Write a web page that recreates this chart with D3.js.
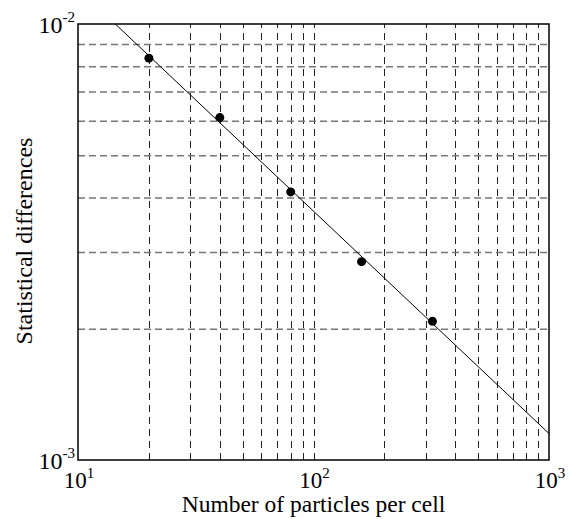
<!DOCTYPE html>
<html>
<head>
<meta charset="utf-8">
<script src="https://cdn.jsdelivr.net/npm/d3@7"></script>
<style>
  body { margin: 0; background: #fff; }
  text { font-family: "Liberation Serif", "Times New Roman", serif; fill: #000; }
</style>
</head>
<body>
<script>
var width = 569,
    height = 519;

var margin = {left: 78, top: 24, right: 20, bottom: 59};
var w = width - margin.left - margin.right,
    h = height - margin.top - margin.bottom;

// measured points
var particles = [20, 40, 80, 160, 320];
var differences = [0.00835, 0.0061, 0.00412, 0.00285, 0.00208];

// fitted line endpoints
var fitX = [14.4, 1000];
var fitY = [0.01, 0.00115];

var xDecades = [10, 100, 1000];
var yDecades = [0.001, 0.01];
var xGrid = [20, 30, 40, 50, 60, 70, 80, 90, 100, 200, 300, 400, 500, 600, 700, 800, 900];
var yGrid = [0.002, 0.003, 0.004, 0.005, 0.006, 0.007, 0.008, 0.009];

var svg = d3.select("body").append("svg")
    .attr("width", width)
    .attr("height", height);

var g = svg.append("g")
    .attr("transform", "translate(" + margin.left + "," + margin.top + ")");

var x = d3.scaleLog().domain([10, 1000]).range([0, w]);
var y = d3.scaleLog().domain([0.001, 0.01]).range([h, 0]);

// grid
g.append("g")
    .attr("class", "xgrid")
    .attr("transform", "translate(0," + h + ")")
    .call(d3.axisBottom(x).tickValues(xGrid).tickSize(-h).tickFormat(""))
    .call(function(s) {
        s.select(".domain").remove();
        s.selectAll("line")
            .attr("stroke", "#222")
            .attr("stroke-width", 1)
            .attr("stroke-dasharray", "7,5")
            .attr("shape-rendering", "crispEdges");
    });

g.append("g")
    .attr("class", "ygrid")
    .call(d3.axisLeft(y).tickValues(yGrid).tickSize(-w).tickFormat(""))
    .call(function(s) {
        s.select(".domain").remove();
        s.selectAll("line")
            .attr("stroke", "#777")
            .attr("stroke-width", 1.5)
            .attr("stroke-dasharray", "7,4");
    });

// fit line
var line = d3.line()
    .x(function(d) { return x(d[0]); })
    .y(function(d) { return y(d[1]); });

g.append("path")
    .datum(d3.zip(fitX, fitY))
    .attr("d", line)
    .attr("fill", "none")
    .attr("stroke", "#000")
    .attr("stroke-width", 1);

// points
g.selectAll(".dot")
    .data(d3.zip(particles, differences))
    .enter().append("circle")
    .attr("class", "dot")
    .attr("cx", function(d) { return x(d[0]); })
    .attr("cy", function(d) { return y(d[1]); })
    .attr("r", 4.5)
    .attr("fill", "#000");

// frame
g.append("rect")
    .attr("width", w)
    .attr("height", h)
    .attr("fill", "none")
    .attr("stroke", "#000")
    .attr("stroke-width", 1.5);

// tick labels
var xl = g.selectAll(".xlab")
    .data(xDecades)
    .enter().append("text")
    .attr("class", "xlab")
    .attr("x", function(d) { return x(d) + 1; })
    .attr("y", h + 28)
    .attr("text-anchor", "middle")
    .style("font-size", "23px");
xl.append("tspan").text("10");
xl.append("tspan")
    .attr("dy", -10)
    .style("font-size", "15px")
    .text(function(d) { return Math.round(Math.log10(d)); });

var yl = g.selectAll(".ylab")
    .data(yDecades)
    .enter().append("text")
    .attr("class", "ylab")
    .attr("x", -3)
    .attr("y", function(d) { return y(d) + 9; })
    .attr("text-anchor", "end")
    .style("font-size", "24px");
yl.append("tspan").text("10");
yl.append("tspan")
    .attr("dy", -11)
    .style("font-size", "15px")
    .text(function(d) { return Math.round(Math.log10(d)); });

// axis titles
svg.append("text")
    .attr("x", margin.left + w / 2)
    .attr("y", 512)
    .attr("text-anchor", "middle")
    .style("font-size", "23.5px")
    .text("Number of particles per cell");

svg.append("text")
    .attr("transform", "translate(32," + (margin.top + h / 2 - 1) + ") rotate(-90)")
    .attr("text-anchor", "middle")
    .style("font-size", "24px")
    .text("Statistical differences");
</script>
</body>
</html>
